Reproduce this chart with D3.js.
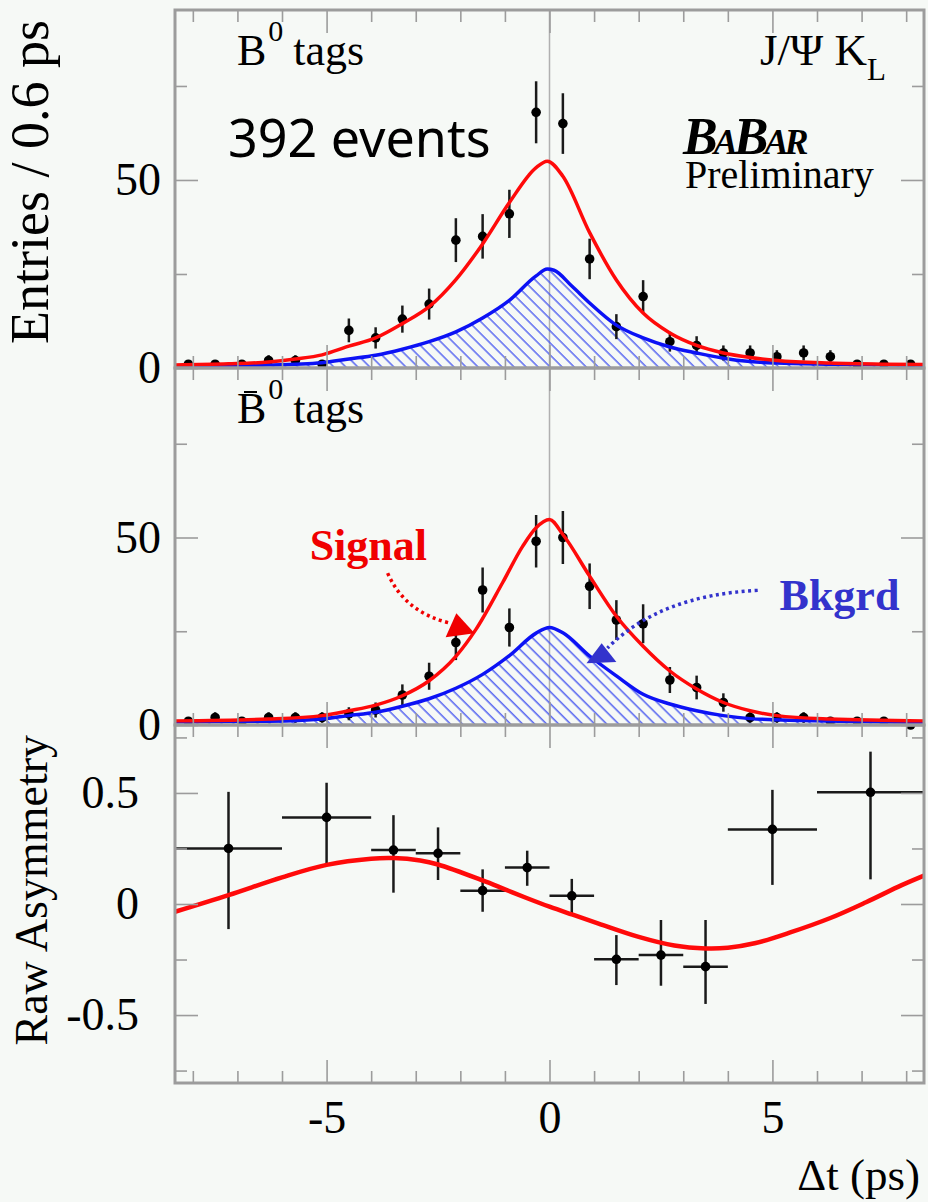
<!DOCTYPE html>
<html>
<head>
<meta charset="UTF-8">
<script src="https://cdn.jsdelivr.net/npm/d3@7/dist/d3.min.js"></script>
<style>
body{
    margin:0;
    background-color:#f6f9f6;
}
svg text{
    font-family:"Liberation Serif","Times New Roman",serif;
}
</style>
</head>
<body>
<script>

// bin centres of the 0.6 ps histograms
var binCenters = [-8.1,-7.5,-6.9,-6.3,-5.7,-5.1,-4.5,-3.9,-3.3,-2.7,-2.1,-1.5,-0.9,-0.3,
                  0.3,0.9,1.5,2.1,2.7,3.3,3.9,4.5,5.1,5.7,6.3,6.9,7.5,8.1];
var b0Counts    = [1,1,1,2,2,1,10,8,13,17,34,35,41,68,65,29,11,19,7,6,4,4,3,4,3,1,1,1];
var b0barCounts = [1,2,1,2,2,2,3,4,8,13,22,36,26,49,50,37,28,27,12,10,6,2,2,2,1,1,1,0];

// fit curves: [dt, entries]
var b0Total = [[-8.4,0.8],[-7.2,1.1],[-6.3,1.6],[-5.7,2.4],[-5.1,3.5],[-4.5,5.8],[-3.9,8],[-3.3,11.8],
               [-2.7,16.3],[-2.1,23.5],[-1.5,33],[-0.9,44],[-0.3,53.3],[-0.05,55],[0.3,51],[0.9,36],
               [1.5,23.4],[2.1,14.6],[2.7,9.3],[3.3,6],[3.9,4],[4.5,2.8],[5.1,2],[6.3,1.3],[7.5,1],[8.4,0.9]];
var b0Bkg   = [[-8.4,0.5],[-6.3,0.8],[-5.1,1.4],[-4.5,2.4],[-3.9,3.4],[-3.3,5],[-2.7,7],[-2.1,9.6],
               [-1.5,13.3],[-0.9,18],[-0.3,24.5],[-0.05,26.3],[0.1,26],[0.5,21.8],[0.9,17.3],[1.5,11.4],
               [2.1,8],[2.7,5.6],[3.3,4],[3.9,2.6],[4.5,1.7],[5.1,1.3],[6.3,1],[8.4,0.7]];
var b0barTotal = [[-8.4,1.1],[-6.3,1.6],[-5.1,2.5],[-4.5,3.8],[-3.9,5.3],[-3.3,7.8],[-2.7,11.8],[-2.1,18.3],
                  [-1.65,25.5],[-1.05,38],[-0.6,47.7],[-0.3,52.6],[0,54.8],[0.3,50.8],[0.9,39.7],[1.5,29],
                  [2.1,21],[2.7,14.4],[3.3,9.6],[3.9,6],[4.5,3.8],[5.1,2.5],[6.3,1.6],[8.4,1.1]];
var b0barBkg   = [[-8.4,0.8],[-6.3,1],[-5.1,1.6],[-4.5,2.5],[-3.9,3.4],[-3.3,5],[-2.7,7],[-2.1,9.8],
                  [-1.5,13.5],[-0.9,18.5],[-0.3,24.5],[0,26],[0.3,24.6],[0.9,18.4],[1.5,13.1],[2.1,8.2],
                  [2.7,5.6],[3.3,3.8],[3.9,2.5],[4.5,1.7],[5.7,1.2],[8.4,0.7]];

// raw asymmetry
var asymLo    = [-8.4,-6,-4,-3,-2,-1,0,1,2,3,4,6];
var asymHi    = [-6,-4,-3,-2,-1,0,1,2,3,4,6,8.4];
var asymVal   = [0.25,0.39,0.243,0.228,0.06,0.164,0.037,-0.249,-0.23,-0.282,0.336,0.503];
var asymErrUp = [0.255,0.156,0.157,0.117,0.096,0.076,0.076,0.109,0.158,0.21,0.178,0.183];
var asymErrDn = [0.363,0.217,0.192,0.12,0.095,0.082,0.082,0.116,0.138,0.168,0.25,0.392];
var asymFit = [[-8.4,-0.035],[-7.2,0.04],[-6,0.12],[-5,0.176],[-4,0.204],[-3.5,0.207],[-2.9,0.196],
               [-2.5,0.178],[-1.5,0.106],[-1,0.066],[-0.5,0.026],[0,-0.012],[0.5,-0.047],[1.1,-0.088],
               [2,-0.148],[2.8,-0.187],[3.5,-0.2],[4,-0.197],[4.6,-0.177],[5.4,-0.128],[6.3,-0.063],
               [7.1,0.008],[7.9,0.085],[8.4,0.128]];

// ticks
var xMajor = [-5,0,5];
var xMinor = [-8,-7,-6,-4,-3,-2,-1,1,2,3,4,6,7,8];
var nMajor = [0,50], nMinor = [25,75];
var aMajor = [-0.5,0,0.5], aMinor = [-0.75,-0.25,0.25,0.75];

var width = 928, height = 1202;
var left = 175, right = 924;

var x = d3.scaleLinear().domain([-8.4,8.4]).range([left,right]);
var yTop = d3.scaleLinear().domain([0,95.2]).range([368,10]);
var yMid = d3.scaleLinear().domain([0,95.2]).range([725,368]);
var yAsym = d3.scaleLinear().domain([-0.806,0.806]).range([1083,725]);

var RED = "#ff0a0a", BLUE = "#0c12f5", FRAME = "#9c9c9c";

var svg = d3.select("body").append("svg")
    .attr("width",width)
    .attr("height",height);

svg.append("rect").attr("width",width).attr("height",height).attr("fill","#f6f9f6");

var defs = svg.append("defs");
var hatch = defs.append("pattern")
    .attr("id","hatch")
    .attr("patternUnits","userSpaceOnUse")
    .attr("width",8.5).attr("height",8.5)
    .attr("patternTransform","rotate(-45)");
hatch.append("line")
    .attr("x1",2).attr("y1",-2).attr("x2",2).attr("y2",11)
    .attr("stroke","#3f4ff0").attr("stroke-width",1.3);

// vertical zero line through the two count panels
svg.append("line")
    .attr("x1",x(0)).attr("x2",x(0))
    .attr("y1",yTop.range()[1]).attr("y2",yMid.range()[0])
    .attr("stroke","#b0b0b0").attr("stroke-width",1.5);

function drawCounts(yS, counts, total, bkg){
    var g = svg.append("g");
    var area = d3.area().x(function(d){return x(d[0]);})
        .y0(yS(0)).y1(function(d){return yS(d[1]);})
        .curve(d3.curveMonotoneX);
    g.append("path").datum(bkg).attr("d",area).attr("fill","url(#hatch)");

    var pts = counts.map(function(c,i){ return {t:binCenters[i], n:c}; });
    g.selectAll(".err").data(pts).enter().append("line")
        .attr("x1",function(d){return x(d.t);})
        .attr("x2",function(d){return x(d.t);})
        .attr("y1",function(d){return yS(d.n+Math.sqrt(d.n));})
        .attr("y2",function(d){return yS(Math.max(0,d.n-Math.sqrt(d.n)));})
        .attr("stroke","#1a1a1a").attr("stroke-width",2.5);
    g.selectAll(".pt").data(pts).enter().append("circle")
        .attr("cx",function(d){return x(d.t);})
        .attr("cy",function(d){return yS(d.n);})
        .attr("r",4.8).attr("fill","#000");

    var line = d3.line().x(function(d){return x(d[0]);})
        .y(function(d){return yS(d[1]);})
        .curve(d3.curveMonotoneX);
    g.append("path").datum(bkg).attr("d",line)
        .attr("fill","none").attr("stroke",BLUE).attr("stroke-width",3.5);
    g.append("path").datum(total).attr("d",line)
        .attr("fill","none").attr("stroke",RED).attr("stroke-width",3.5);
}

drawCounts(yTop, b0Counts, b0Total, b0Bkg);
drawCounts(yMid, b0barCounts, b0barTotal, b0barBkg);

// asymmetry panel
var ag = svg.append("g");
var asym = asymVal.map(function(v,i){
    return {lo:asymLo[i], hi:asymHi[i], v:v, up:asymErrUp[i], dn:asymErrDn[i]};
});
ag.selectAll(".xerr").data(asym).enter().append("line")
    .attr("x1",function(d){return x(d.lo);})
    .attr("x2",function(d){return x(d.hi);})
    .attr("y1",function(d){return yAsym(d.v);})
    .attr("y2",function(d){return yAsym(d.v);})
    .attr("stroke","#1a1a1a").attr("stroke-width",2.5);
ag.selectAll(".yerr").data(asym).enter().append("line")
    .attr("x1",function(d){return x((d.lo+d.hi)/2);})
    .attr("x2",function(d){return x((d.lo+d.hi)/2);})
    .attr("y1",function(d){return yAsym(d.v+d.up);})
    .attr("y2",function(d){return yAsym(d.v-d.dn);})
    .attr("stroke","#1a1a1a").attr("stroke-width",2.5);
ag.selectAll(".apt").data(asym).enter().append("circle")
    .attr("cx",function(d){return x((d.lo+d.hi)/2);})
    .attr("cy",function(d){return yAsym(d.v);})
    .attr("r",4.8).attr("fill","#000");
ag.append("path").datum(asymFit)
    .attr("d",d3.line().x(function(d){return x(d[0]);})
        .y(function(d){return yAsym(d[1]);})
        .curve(d3.curveCatmullRom.alpha(0.5)))
    .attr("fill","none").attr("stroke",RED).attr("stroke-width",4.5);

// frames and ticks (ticks on all four sides, pointing inwards)
function frame(yS, yMaj, yMin){
    var top = yS.range()[1], bottom = yS.range()[0];
    var g = svg.append("g");
    function tk(axis, tr){
        var a = g.append("g").attr("transform",tr).call(axis);
        a.select(".domain").remove();
        a.selectAll("line").attr("stroke",FRAME).attr("stroke-width",1.6);
    }
    tk(d3.axisBottom(x).tickValues(xMajor).tickSize(23).tickFormat(""),"translate(0,"+top+")");
    tk(d3.axisBottom(x).tickValues(xMinor).tickSize(12).tickFormat(""),"translate(0,"+top+")");
    tk(d3.axisTop(x).tickValues(xMajor).tickSize(23).tickFormat(""),"translate(0,"+bottom+")");
    tk(d3.axisTop(x).tickValues(xMinor).tickSize(12).tickFormat(""),"translate(0,"+bottom+")");
    tk(d3.axisRight(yS).tickValues(yMaj).tickSize(23).tickFormat(""),"translate("+left+",0)");
    tk(d3.axisRight(yS).tickValues(yMin).tickSize(12).tickFormat(""),"translate("+left+",0)");
    tk(d3.axisLeft(yS).tickValues(yMaj).tickSize(23).tickFormat(""),"translate("+right+",0)");
    tk(d3.axisLeft(yS).tickValues(yMin).tickSize(12).tickFormat(""),"translate("+right+",0)");
    g.append("rect").attr("x",left).attr("y",top)
        .attr("width",right-left).attr("height",bottom-top)
        .attr("fill","none").attr("stroke",FRAME).attr("stroke-width",3);
}
frame(yTop, nMajor, nMinor);
frame(yMid, nMajor, nMinor);
frame(yAsym, aMajor, aMinor);

// tick labels
function labels(axis, tr){
    var a = svg.append("g").attr("transform",tr).call(axis);
    a.select(".domain").remove();
    a.selectAll("line").remove();
    a.selectAll("text").attr("font-size",46).style("fill","#000")
        .style("font-family","'Liberation Serif',serif");
    return a;
}
var fmt = function(d){ return String(d); };
labels(d3.axisLeft(yTop).tickValues(nMajor).tickSize(0).tickPadding(0).tickFormat(fmt),"translate(161,0)");
labels(d3.axisLeft(yMid).tickValues(nMajor).tickSize(0).tickPadding(0).tickFormat(fmt),"translate(161,0)");
labels(d3.axisLeft(yAsym).tickValues(aMajor).tickSize(0).tickPadding(0).tickFormat(fmt),"translate(139,0)");
var xl = labels(d3.axisBottom(x).tickValues(xMajor).tickSize(0).tickPadding(0).tickFormat(fmt),"translate(0,1100)");
xl.selectAll("text").attr("dy","0.72em");

// axis titles
svg.append("text")
    .attr("transform","translate(48,20) rotate(-90)")
    .attr("text-anchor","end")
    .attr("font-size",54)
    .style("fill","#000")
    .text("Entries / 0.6 ps");
svg.append("text")
    .attr("transform","translate(47,735) rotate(-90)")
    .attr("text-anchor","end")
    .attr("font-size",46)
    .style("fill","#000")
    .text("Raw Asymmetry");
svg.append("text")
    .attr("x",920).attr("y",1190)
    .attr("text-anchor","end")
    .attr("font-size",45)
    .style("fill","#000")
    .text("\u0394t (ps)");

// panel annotations
var t1 = svg.append("text").attr("x",237).attr("y",65).attr("font-size",44).style("fill","#000");
t1.append("tspan").text("B");
t1.append("tspan").attr("font-size",30).attr("dy",-24).attr("dx",2).text("0");
t1.append("tspan").attr("dy",24).attr("dx",10).text("tags");

var t2 = svg.append("text").attr("x",237).attr("y",423).attr("font-size",44).style("fill","#000");
t2.append("tspan").text("B");
t2.append("tspan").attr("font-size",30).attr("dy",-24).attr("dx",2).text("0");
t2.append("tspan").attr("dy",24).attr("dx",10).text("tags");
svg.append("line").attr("x1",244).attr("x2",257).attr("y1",392).attr("y2",392)
    .attr("stroke","#000").attr("stroke-width",2);

var t3 = svg.append("text").attr("x",760).attr("y",65).attr("font-size",45).style("fill","#000");
t3.append("tspan").text("J/\u03A8 K");
t3.append("tspan").attr("font-size",31).attr("dy",15).text("L");

svg.append("text")
    .attr("x",228).attr("y",157)
    .attr("font-size",52)
    .style("font-family","'Noto Sans','Open Sans',sans-serif")
    .style("fill","#000")
    .text("392 events");

// experiment logo: one string, small caps gives the big B / small A look
svg.append("text").attr("x",683).attr("y",154)
    .attr("font-style","italic").attr("font-weight","bold").attr("font-size",52)
    .attr("letter-spacing",-4)
    .style("font-variant","small-caps")
    .style("fill","#000")
    .text("BaBar");
svg.append("text").attr("x",685).attr("y",188).attr("font-size",40).style("fill","#000").text("Preliminary");

// Signal / Bkgrd call-outs, anchored in data coordinates of the middle panel
var SIG = "#f00000", BKG = "#3333cc";
svg.append("text").attr("x",x(-5.38)).attr("y",yMid(43.9))
    .attr("font-size",44).attr("font-weight","bold").style("fill",SIG).text("Signal");
svg.append("path")
    .attr("d","M"+x(-3.63)+","+yMid(40.5)+" Q"+x(-3.25)+","+yMid(30.1)+" "+x(-2.24)+","+yMid(27.2))
    .attr("fill","none").attr("stroke",SIG).attr("stroke-width",3.5).attr("stroke-dasharray","3,3.5");
svg.append("path")
    .attr("d","M"+x(-1.68)+","+yMid(24.5)+" L"+x(-2.33)+","+yMid(23.4)+" L"+x(-2.09)+","+yMid(29.8)+"Z")
    .attr("fill",SIG);

svg.append("text").attr("x",x(5.16)).attr("y",yMid(30.6))
    .attr("font-size",44).attr("font-weight","bold").style("fill",BKG).text("Bkgrd");
svg.append("path")
    .attr("d","M"+x(4.67)+","+yMid(35.9)+" Q"+x(2.47)+","+yMid(34.6)+" "+x(1.3)+","+yMid(20.5))
    .attr("fill","none").attr("stroke",BKG).attr("stroke-width",3.5).attr("stroke-dasharray","3,3.5");
svg.append("path")
    .attr("d","M"+x(0.83)+","+yMid(16.5)+" L"+x(1.17)+","+yMid(21.8)+" L"+x(1.5)+","+yMid(16.8)+"Z")
    .attr("fill",BKG);

</script>
</body>
</html>
